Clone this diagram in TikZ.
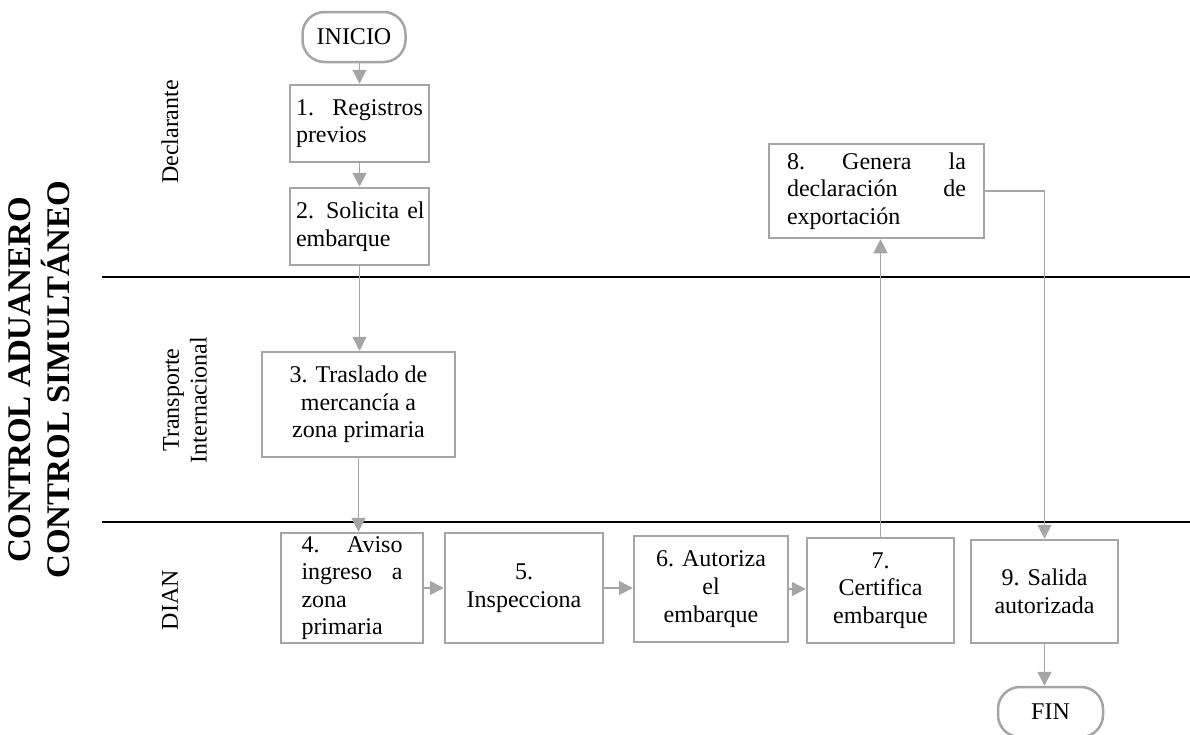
\documentclass[tikz,border=0pt]{standalone}
\usepackage{fontspec}
\setmainfont{Liberation Serif}
\usetikzlibrary{arrows.meta}
\definecolor{bgray}{HTML}{A5A5A5}
\begin{document}
\begin{tikzpicture}[x=1pt,y=-1pt,
  txt/.style={font=\fontsize{24}{27.6}\selectfont},
  box/.style={txt,draw=bgray,line width=2.5pt,inner sep=0pt,align=center},
  terminal/.style={box,rounded corners=22pt,minimum width=103pt,minimum height=50pt},
  arr/.style={draw=bgray,line width=1.5pt,-{Triangle[width=14pt,length=14pt]}},
  lane/.style={line width=2pt,black},
  lanelabel/.style={txt,rotate=90,align=center}]
\useasboundingbox (0,0) rectangle (1190,734);

% lane separators
\coordinate (l1a) at (102,277); \coordinate (l1b) at (1190,277);
\coordinate (l2a) at (102,522); \coordinate (l2b) at (1190,522);
\draw[lane] (l1a) -- (l1b);
\draw[lane] (l2a) -- (l2b);

% left labels
\node[rotate=90,align=center,font=\bfseries\fontsize{33}{39}\selectfont] (title) at (39,380) {CONTROL ADUANERO\\CONTROL SIMULTÁNEO};
\node[lanelabel] (lab1) at (170,132) {Declarante};
\node[lanelabel] (lab2) at (185,400) {Transporte\\Internacional};
\node[lanelabel] (lab3) at (170,600) {DIAN};

% nodes
\node[terminal] (inicio) at (354,37) {INICIO};
\node[box,minimum width=139pt,minimum height=77pt,text width=127pt,align=left] (b1) at (359.5,123.5) {1.\hfill Registros\\previos};
\node[box,minimum width=139pt,minimum height=77pt,text width=127pt,align=left] (b2) at (359.5,226.5) {\mbox{2. Solicita el}\\embarque};
\node[box,minimum width=193pt,minimum height=105pt] (b3) at (358.5,404.5) {3. Traslado de\\mercancía a\\zona primaria};
\node[box,minimum width=142pt,minimum height=110pt,text width=101pt,align=left] (b4) at (352,588) {4.\hfill Aviso\\ingreso\hfill a\\zona\\primaria};
\node[box,minimum width=158pt,minimum height=110pt] (b5) at (524,588) {5.\\Inspecciona};
\node[box,minimum width=154pt,minimum height=106pt] (b6) at (711,589) {6. Autoriza\\el\\embarque};
\node[box,minimum width=147pt,minimum height=105pt] (b7) at (880.5,590.5) {7.\\Certifica\\embarque};
\node[box,minimum width=215pt,minimum height=94pt,text width=179pt,align=left] (b8) at (876.5,191) {8.\hfill Genera\hfill la\\declaración\hfill de\\exportación};
\node[box,minimum width=147pt,minimum height=103pt] (b9) at (1044.5,591.5) {9. Salida\\autorizada};
\node[terminal,minimum width=105pt] (fin) at (1050.5,712) {FIN};

% connectors
\draw[arr] (inicio.south -| b1.north) -- (b1.north);
\draw[arr] (b1.south) -- (b2.north);
\draw[arr,line width=1.2pt] (b2.south) -- (b2.south |- b3.north);
\draw[arr,line width=1.2pt] (b3.south) -- (b3.south |- b4.north);
\draw[arr] (b4.east) -- (b4.east -| b5.west);
\draw[arr] (b5.east) -- (b5.east -| b6.west);
\draw[arr] (b6.east) -- (b6.east -| b7.west);
\draw[arr,line width=1.2pt] (b7.north) -- (b7.north |- b8.south);
\draw[arr,line width=1.2pt] (b8.east) -| (b9.north);
\draw[arr] (b9.south) -- (b9.south |- fin.north);
\end{tikzpicture}
\end{document}
